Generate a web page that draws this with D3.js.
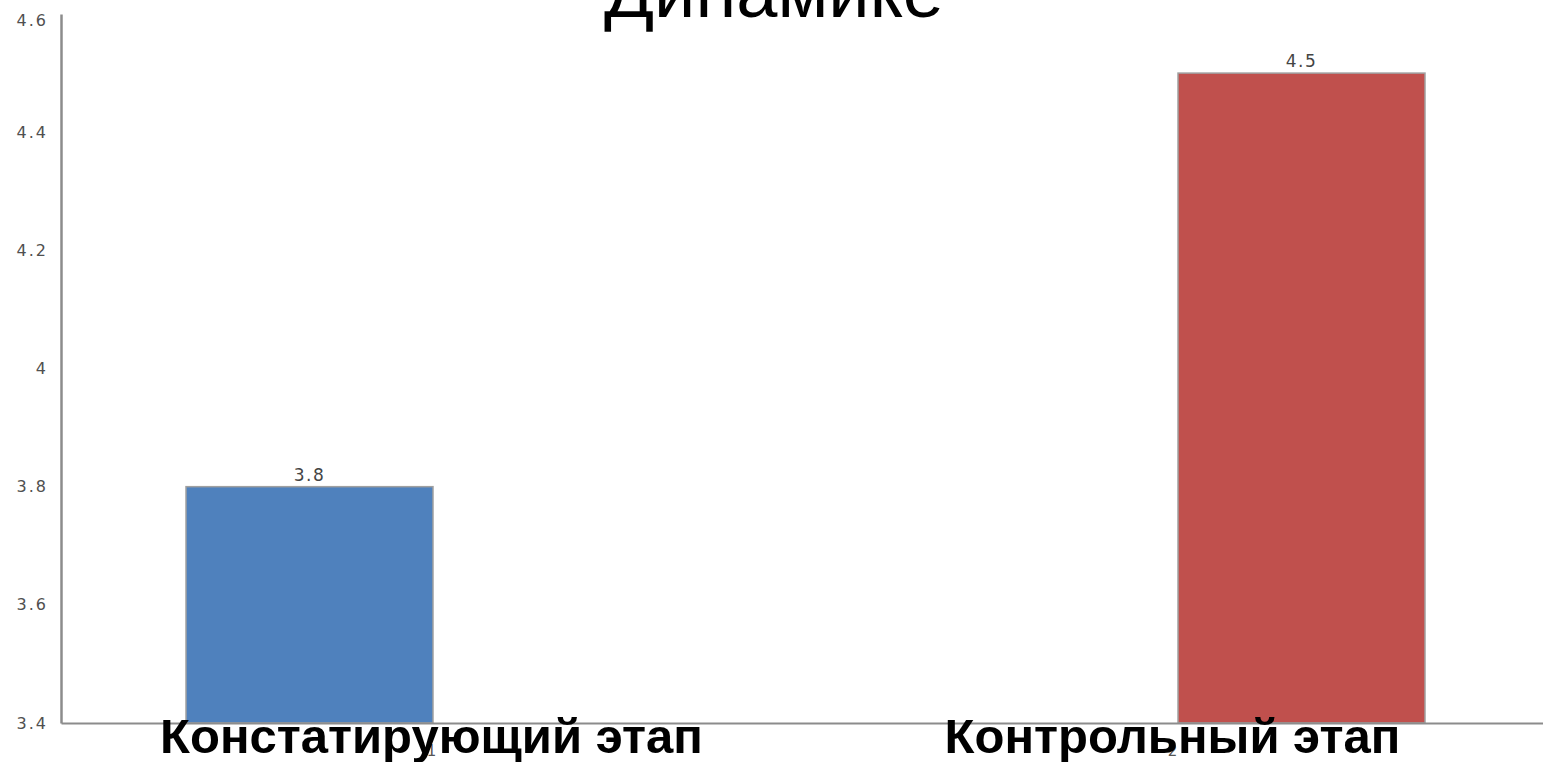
<!DOCTYPE html>
<html>
<head>
<meta charset="utf-8">
<script src="https://cdn.jsdelivr.net/npm/d3@7"></script>
<style>
  body { margin: 0; background: #fff; }
</style>
</head>
<body>
<script>
// chart data
var categories = ["1", "2"];
var series = ["s1", "s2"];
var values1 = [3.8, null];
var values2 = [null, 4.5];
var stageLabels = ["Констатирующий этап", "Контрольный этап"];
var yTicks = [3.4, 3.6, 3.8, 4, 4.2, 4.4, 4.6];
var colors = ["#4f81bd", "#c0504d"];

var w = 1543, h = 762;
var mLeft = 61, mRight = 1543, mTop = 14, mBottom = 723;

var svg = d3.select("body").append("svg").attr("width", w).attr("height", h);

var x = d3.scaleBand().domain(categories).range([mLeft, mRight]);
var xs = d3.scaleBand().domain(series).range([125, 623]).paddingInner(0.016);
var y = d3.scaleLinear().domain([3.4, 4.6]).range([mBottom, mTop]);

// title (only the last line is visible)
svg.append("text").attr("x", 774).attr("y", 17).attr("text-anchor", "middle")
  .style("font-family", "Liberation Sans, Arial, sans-serif").style("font-size", "74px")
  .text("Динамике");

// y axis
var yAxis = svg.append("g").attr("transform", "translate(" + mLeft + ",0)")
  .call(d3.axisLeft(y).tickValues(yTicks).tickSize(0).tickPadding(13).tickFormat(d3.format("")));
yAxis.select(".domain").attr("stroke", "#8c8c8c").attr("stroke-width", 2.5);
yAxis.selectAll("text").attr("fill", "#505050").style("font-family", "DejaVu Sans, sans-serif")
  .style("font-size", "16px").style("letter-spacing", "2px");
yAxis.selectAll(".tick").filter(function (d) { return d === 4.6; }).select("text").attr("dy", "0.7em");

// bars
var rows = categories.map(function (c, i) { return { cat: c, vals: [values1[i], values2[i]] }; });
var groups = svg.selectAll("g.cat").data(rows).enter().append("g").attr("class", "cat")
  .attr("transform", function (d) { return "translate(" + x(d.cat) + ",0)"; });

function present(d) {
  return d.vals.map(function (v, j) { return { s: series[j], v: v, j: j }; })
    .filter(function (e) { return e.v != null; });
}

groups.selectAll("rect").data(present).enter().append("rect")
  .attr("x", function (d) { return xs(d.s); })
  .attr("width", xs.bandwidth())
  .attr("y", function (d) { return y(d.v); })
  .attr("height", function (d) { return y(3.4) - y(d.v); })
  .attr("fill", function (d) { return colors[d.j]; })
  .attr("stroke", "#a0a0a0").attr("stroke-width", 1.5);

groups.selectAll("text.val").data(present).enter().append("text").attr("class", "val")
  .attr("x", function (d) { return xs(d.s) + xs.bandwidth() / 2; })
  .attr("y", function (d) { return y(d.v) - 6; })
  .attr("text-anchor", "middle").attr("fill", "#444")
  .style("font-family", "DejaVu Sans, sans-serif").style("font-size", "17px").style("letter-spacing", "1.5px")
  .text(function (d) { return d.v; });

// x axis
var xAxis = svg.append("g").attr("transform", "translate(0," + mBottom + ")")
  .call(d3.axisBottom(x).tickSize(0).tickPadding(22));
xAxis.select(".domain").attr("stroke", "#8c8c8c").attr("stroke-width", 2);
xAxis.selectAll("text").attr("fill", "#555").style("font-family", "DejaVu Sans, sans-serif").style("font-size", "15px");

// stage labels under the categories
svg.selectAll("text.stage").data(stageLabels).enter().append("text").attr("class", "stage")
  .attr("x", function (d, i) { return x(categories[i]) + x.bandwidth() / 2; })
  .attr("y", 753).attr("text-anchor", "middle")
  .style("font-family", "Liberation Sans, Arial, sans-serif").style("font-size", "49px").style("font-weight", "bold")
  .text(function (d) { return d; });
</script>
</body>
</html>
